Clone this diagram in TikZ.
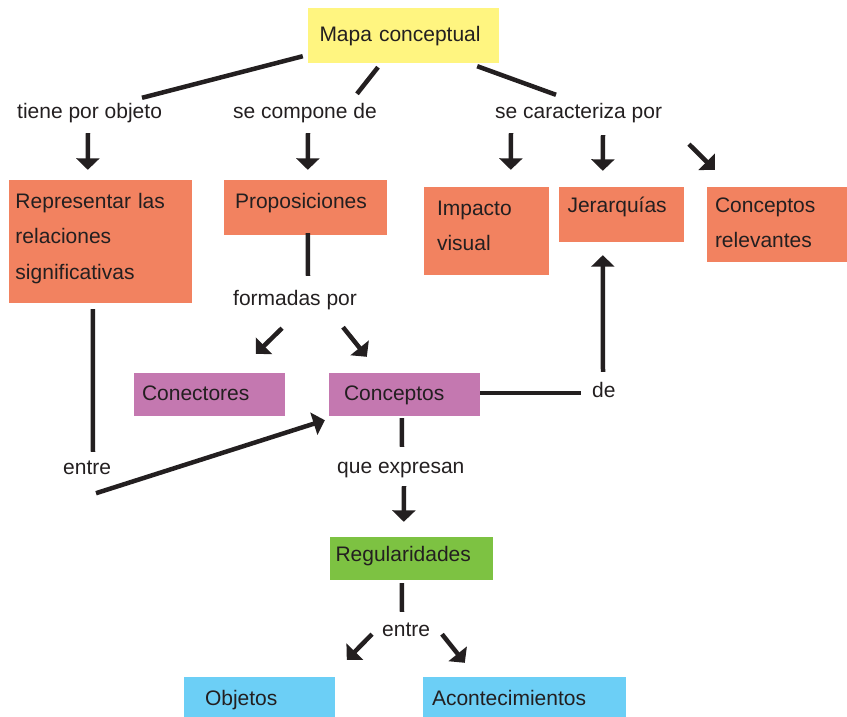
\documentclass[tikz,border=0pt]{standalone}
\usepackage{fontspec}
\setmainfont{Liberation Sans}
\usetikzlibrary{arrows.meta}
\definecolor{cyel}{HTML}{FFF580}
\definecolor{csal}{HTML}{F28260}
\definecolor{cpur}{HTML}{C478B0}
\definecolor{cgrn}{HTML}{7DC242}
\definecolor{cblu}{HTML}{6CCFF6}
\definecolor{ctxt}{HTML}{231F20}
\begin{document}
\begin{tikzpicture}[x=1pt,y=-1pt,
  box/.style={draw=none, inner ysep=0pt, align=left, font=\fontsize{21pt}{35.5pt}\selectfont, text=ctxt, anchor=center},
  lbl/.style={inner sep=0pt, font=\fontsize{21pt}{25pt}\selectfont, text=ctxt, text height=15pt, text depth=5pt, anchor=base west},
  ln/.style={draw=ctxt, line width=4.5pt},
  arr/.style={ln, -{Triangle[width=23pt,length=11.5pt]}}
]
\useasboundingbox (0,0) rectangle (847,716);

% boxes
\node[box, fill=cyel, minimum width=191pt, minimum height=55pt, inner xsep=11.5pt, text width=168pt, text height=11pt, text depth=0pt] (mapa) at (403.5,35.5) {Mapa conceptual};
\node[box, fill=csal, minimum width=183pt, minimum height=123pt, inner xsep=6.5pt, text width=170pt, text height=0pt, text depth=67pt] (rep) at (100.5,241.5) {Representar las\\relaciones\\significativas};
\node[box, fill=csal, minimum width=163pt, minimum height=55pt, inner xsep=11pt, text width=141pt, text height=1pt, text depth=0pt] (prop) at (305.5,207.5) {Proposiciones};
\node[box, fill=csal, minimum width=125pt, minimum height=88pt, inner xsep=13pt, text width=99pt, text height=0pt, text depth=32pt] (imp) at (486.5,231) {Impacto\\visual};
\node[box, fill=csal, minimum width=125pt, minimum height=55pt, inner xsep=8.5pt, text width=108pt, text height=0pt, text depth=5pt] (jer) at (621.5,214.5) {Jerarquías};
\node[box, fill=csal, minimum width=140pt, minimum height=75pt, inner xsep=8pt, text width=124pt, text height=0pt, text depth=25pt] (crel) at (777,224.5) {Conceptos\\relevantes};
\node[box, fill=cpur, minimum width=151pt, minimum height=43pt, inner xsep=8pt, text width=135pt, text height=11pt, text depth=0pt] (con) at (209.5,394.5) {Conectores};
\node[box, fill=cpur, minimum width=151pt, minimum height=43pt, inner xsep=15pt, text width=121pt, text height=11pt, text depth=0pt] (cpt) at (404.5,394.5) {Conceptos};
\node[box, fill=cgrn, minimum width=163pt, minimum height=43pt, inner xsep=5.5pt, text width=152pt, text height=5pt, text depth=0pt] (reg) at (411.5,558.5) {Regularidades};
\node[box, fill=cblu, minimum width=151pt, minimum height=43pt, inner xsep=21pt, text width=109pt, text height=13pt, text depth=0pt] (obj) at (259.5,698.5) {Objetos};
\node[box, fill=cblu, minimum width=203pt, minimum height=43pt, inner xsep=9pt, text width=185pt, text height=13pt, text depth=0pt] (acon) at (524.5,698.5) {Acontecimientos};

% labels
\node[lbl] (tiene) at (17,118) {tiene por objeto};
\node[lbl] (compone) at (233,118) {se compone de};
\node[lbl] (cara) at (495,118) {se caracteriza por};
\node[lbl] (formadas) at (233,305) {formadas por};
\node[lbl] (de) at (592,397) {de};
\node[lbl] (entreA) at (63,474) {entre};
\node[lbl] (que) at (337,473) {que expresan};
\node[lbl] (entreB) at (382,636) {entre};

% connectors
\draw[ln] ([xshift=-5pt,yshift=7pt]mapa.south west) -- ([xshift=125pt,yshift=5pt]tiene.north west);
\draw[ln] ([xshift=-25.5pt,yshift=-4pt]mapa.south) -- ([xshift=124pt,yshift=9pt]compone.north west);
\draw[ln] ([xshift=-22pt,yshift=-3pt]mapa.south east) -- ([xshift=61pt,yshift=8pt]cara.north west);

\draw[arr] ([xshift=71pt,yshift=-10pt]tiene.south west) -- ([xshift=79pt,yshift=10pt]rep.north west);
\draw[arr] ([xshift=75pt,yshift=-10pt]compone.south west) -- ([xshift=84pt,yshift=10pt]prop.north west);
\draw[arr] ([xshift=16pt,yshift=-10pt]cara.south west) -- ([xshift=87pt,yshift=17pt]imp.north west);
\draw[arr] ([xshift=108pt,yshift=-12pt]cara.south west) -- ([xshift=44pt,yshift=16pt]jer.north west);
\draw[arr] ([xshift=194pt,yshift=-21pt]cara.south west) -- ([xshift=8pt,yshift=17pt]crel.north west);

\draw[ln] ([xshift=84pt,yshift=2pt]prop.south west) -- ([xshift=75pt,yshift=14pt]formadas.north west);
\draw[arr] ([xshift=49pt,yshift=-18pt]formadas.south west) -- ([xshift=122pt,yshift=19pt]con.north west);
\draw[arr] ([xshift=110pt,yshift=-17pt]formadas.south west) -- ([xshift=38pt,yshift=16pt]cpt.north west);

\draw[ln] ([yshift=1.5pt]cpt.east) -- ([xshift=-11pt,yshift=-1pt]de.west);
\draw[arr] ([xshift=11pt,yshift=10pt]de.north west) -- ([xshift=44pt,yshift=-13pt]jer.south west);

\draw[ln] ([xshift=84pt,yshift=-6pt]rep.south west) -- ([xshift=30pt,yshift=7pt]entreA.north west);
\draw[arr] ([xshift=33pt,yshift=-14pt]entreA.south west) -- ([xshift=-4pt,yshift=-4pt]cpt.south west);

\draw[ln] ([xshift=73pt,yshift=-2pt]cpt.south west) -- ([xshift=65pt,yshift=11pt]que.north west);
\draw[arr] ([xshift=67pt,yshift=-8pt]que.south west) -- ([xshift=74pt,yshift=15pt]reg.north west);

\draw[ln] ([xshift=72pt,yshift=-3pt]reg.south west) -- ([xshift=20pt,yshift=9pt]entreB.north west);
\draw[arr] ([xshift=-10pt,yshift=7pt]entreB.south west) -- ([xshift=163pt,yshift=17pt]obj.north west);
\draw[arr] ([xshift=60pt,yshift=7pt]entreB.south west) -- ([xshift=42pt,yshift=14pt]acon.north west);
\end{tikzpicture}
\end{document}
